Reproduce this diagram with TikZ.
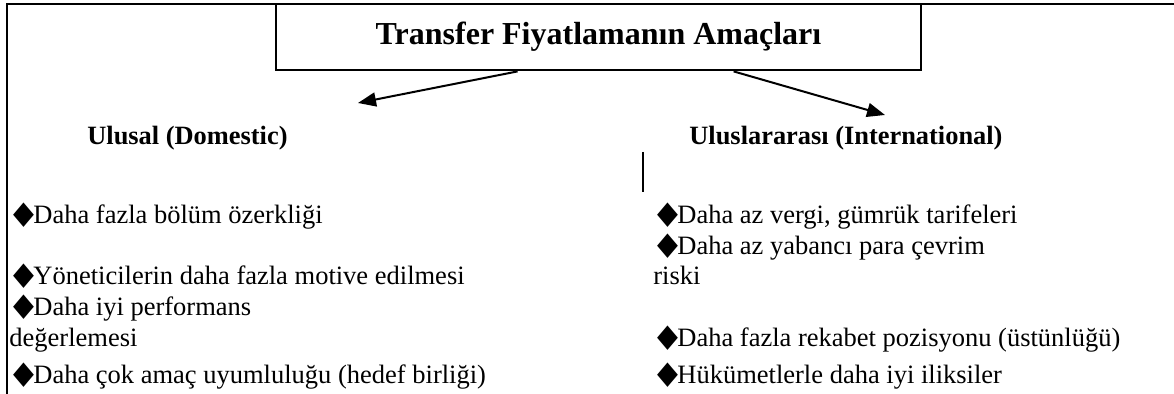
\documentclass[tikz,border=0pt]{standalone}
\usepackage{fontspec}
\usepackage{graphicx}
\setmainfont{Liberation Serif}
\newfontfamily\symfont{DejaVu Sans}
\usetikzlibrary{arrows.meta, positioning}

\newcommand{\bul}{\makebox[12pt][r]{\symfont\fontsize{16}{16}\selectfont\scalebox{0.85}[1]{◆}\hspace{-0.6pt}}}

\tikzset{
  frame/.style={line width=1.4pt},
  titlebox/.style={draw, line width=1.4pt, minimum width=322.5pt, minimum height=33pt, inner sep=0pt, font=\fontsize{16}{19}\selectfont\bfseries},
  head/.style={anchor=base west, inner sep=0pt, font=\fontsize{13.2}{16}\selectfont\bfseries},
  item/.style={anchor=base west, inner sep=0pt, font=\fontsize{13.25}{16}\selectfont},
  conn/.style={line width=1pt, -{Triangle[length=9pt, width=7pt]}},
}

\begin{document}
\begin{tikzpicture}[x=0.5pt, y=-0.5pt]
\def\lx{9}
\def\rx{653}
\useasboundingbox (0,0) rectangle (1174,394);

% frame, cut at the right and at the bottom
\draw[frame] (7,394) -- (7,4) -- (1174,4);

\node[titlebox] (title) at (598.5,37) {Transfer Fiyatlamanın Amaçları};

\node[head] (dom) at (87,145) {Ulusal (Domestic)};
\node[head] (intl) at (689,145) {Uluslararası (International)};

\coordinate (domTip) at (358,103);
\coordinate (intlTip) at (885,115);
\draw[conn] ([xshift=121.5pt]title.south west) -- (domTip);
\draw[conn] ([xshift=229.5pt]title.south west) -- (intlTip);

\draw[line width=1pt] (643,152) -- (643,192);

% domestic
\node[item] (dom1) at (\lx,224) {\bul Daha fazla bölüm özerkliği};
\node[item] (dom2) at (\lx,285) {\bul Yöneticilerin daha fazla motive edilmesi};
\node[item] (dom3) at (\lx,316) {\bul Daha iyi performans};
\node[item] (dom3b) at (\lx,347) {değerlemesi};
\node[item] (dom4) at (\lx,384) {\bul Daha çok amaç uyumluluğu (hedef birliği)};

% international
\node[item] (intl1) at (\rx,224) {\bul Daha az vergi, gümrük tarifeleri};
\node[item] (intl2) at (\rx,255) {\bul Daha az yabancı para çevrim};
\node[item] (intl2b) at (\rx,285) {riski};
\node[item] (intl3) at (\rx,347) {\bul Daha fazla rekabet pozisyonu (üstünlüğü)};
\node[item] (intl4) at (\rx,384) {\bul Hükümetlerle daha iyi iliksiler};
\end{tikzpicture}
\end{document}
